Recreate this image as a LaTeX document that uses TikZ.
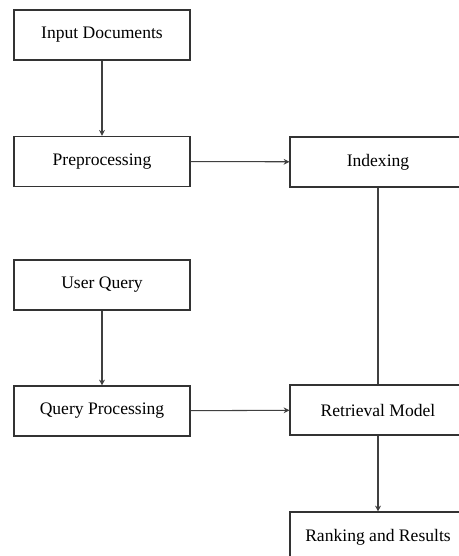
\documentclass[tikz,border=0pt]{standalone}
\usepackage{fontspec}
\setmainfont{Liberation Serif}
\usetikzlibrary{arrows.meta}

\begin{document}
\begin{tikzpicture}[
    procbox/.style={rectangle, draw=black!80, line width=0.9pt, minimum width=5.28cm, minimum height=1.5cm, align=center, font=\fontsize{15}{18}\selectfont},
    flowarrow/.style={draw=black!75, line width=0.9pt, -{Stealth[length=5pt, width=5pt]}}
]
    \clip (0, 0) rectangle (13.77, 16.68);

    % document side
    \node[procbox] (input) at (3.06, 15.63) {Input Documents};
    \node[procbox] (prep) at (3.06, 11.84) {Preprocessing};
    \node[procbox] (index) at (11.34, 11.82) {Indexing};

    % query side
    \node[procbox] (query) at (3.06, 8.13) {User Query};
    \node[procbox] (qproc) at (3.06, 4.35) {Query Processing};
    \node[procbox] (retr) at (11.34, 4.38) {Retrieval Model};
    \node[procbox] (rank) at (11.34, 0.57) {Ranking and Results};

    \draw[flowarrow] (input) -- (prep);
    \draw[flowarrow] (prep) -- (index);
    \draw[draw=black!75, line width=0.9pt] (index) -- (retr);
    \draw[flowarrow] (query) -- (qproc);
    \draw[flowarrow] (qproc) -- (retr);
    \draw[flowarrow] (retr) -- (rank);
\end{tikzpicture}
\end{document}
